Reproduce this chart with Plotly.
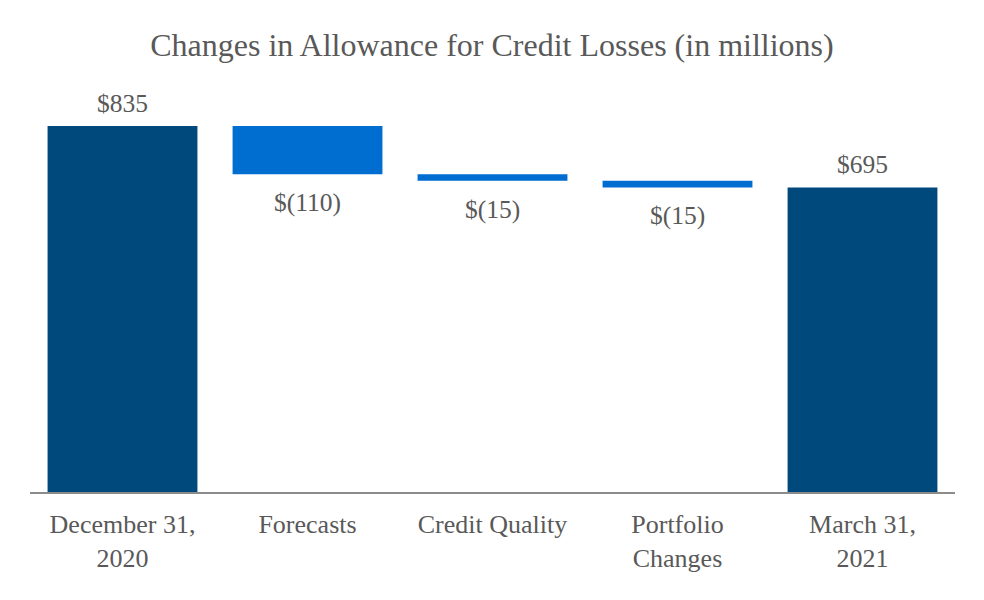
import plotly.graph_objects as go

categories = ["December 31,<br>2020", "Forecasts", "Credit Quality", "Portfolio<br>Changes", "March 31,<br>2021"]
measures = ["absolute", "relative", "relative", "relative", "total"]
values = [835, -110, -15, -15, 695]
labels = ["$835", "$(110)", "$(15)", "$(15)", "$695"]

dark = "#00497C"
light = "#006DD1"
gray = "#595959"
font = "Liberation Serif, Times New Roman, serif"

bases, heights, colors = [], [], []
running = 0
for m, v in zip(measures, values):
    if m == "absolute":
        bases.append(0); heights.append(v); colors.append(dark); running = v
    elif m == "total":
        bases.append(0); heights.append(running); colors.append(dark)
    else:
        bases.append(running + v); heights.append(-v); colors.append(light); running += v

fig = go.Figure(go.Bar(x=categories, y=heights, base=bases, marker_color=colors,
                       marker_line_width=0, hoverinfo="skip"))

for c, m, b, h, lab in zip(categories, measures, bases, heights, labels):
    if m == "relative":
        fig.add_annotation(x=c, y=b, text=lab, showarrow=False, yanchor="top", yshift=-12,
                           font=dict(family=font, size=25.5, color=gray))
    else:
        fig.add_annotation(x=c, y=b + h, text=lab, showarrow=False, yanchor="bottom", yshift=6,
                           font=dict(family=font, size=25.5, color=gray))

fig.update_layout(
    width=968, height=584,
    margin=dict(l=22, r=21, t=72, b=100),
    paper_bgcolor="white", plot_bgcolor="white",
    bargap=0.19,
    showlegend=False,
    title=dict(text="Changes in Allowance for Credit Losses (in millions)", x=0.5, xanchor="center",
               y=1 - 37 / 584, yanchor="middle",
               font=dict(family=font, size=32, color=gray)),
    xaxis=dict(showline=True, linecolor="#8C8C8C", linewidth=2, ticks="", showgrid=False,
               tickfont=dict(family=font, size=26, color=gray), ticklabelstandoff=8),
    yaxis=dict(range=[0, 940], visible=False, showgrid=False, zeroline=False),
)

fig.write_html("out.html")
